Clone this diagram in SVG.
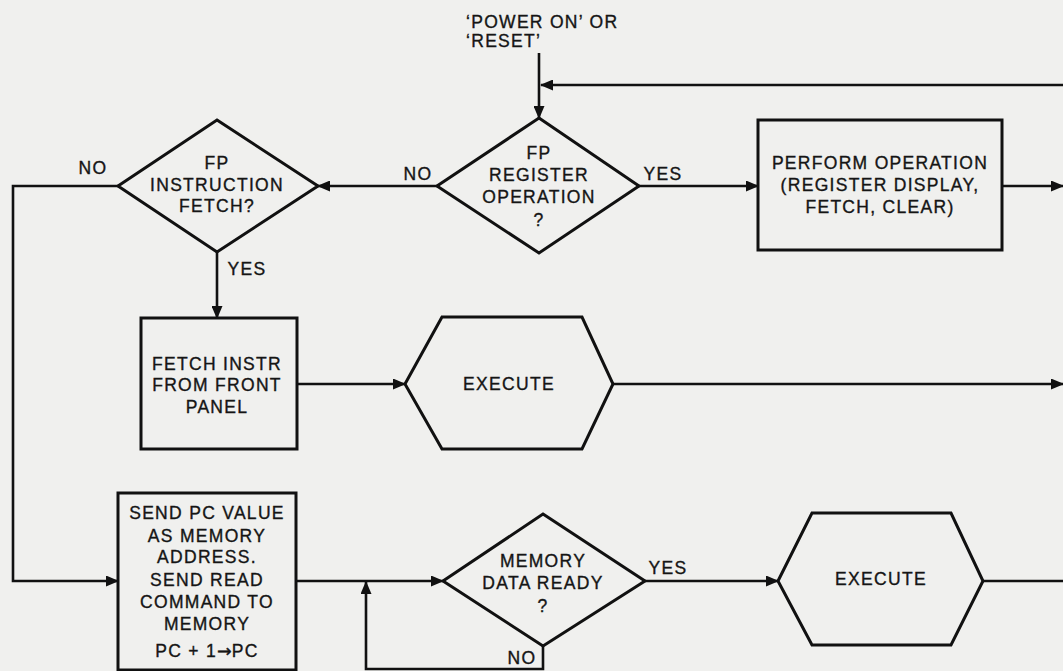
<svg xmlns="http://www.w3.org/2000/svg" width="1063" height="671" viewBox="0 0 1063 671">
<defs>
<marker id="ah" markerUnits="userSpaceOnUse" markerWidth="13" markerHeight="11" refX="12" refY="5.5" orient="auto">
<path d="M0,0 L13,5.5 L0,11 z" fill="#111"/>
</marker>
<style>
.s{fill:none;stroke:#111;stroke-width:3;stroke-linejoin:miter}
.c{fill:none;stroke:#111;stroke-width:2.6}
.a{marker-end:url(#ah)}
text{font-family:"Liberation Sans",Arial,sans-serif;font-size:17.5px;letter-spacing:1.3px;fill:#151515;stroke:#151515;stroke-width:0.35}
.m{text-anchor:middle}
.arr{font-family:"DejaVu Sans",sans-serif;letter-spacing:0}
</style>
</defs>
<rect width="1063" height="671" fill="#f0f0ee"/>

<g id="start">
<text x="466" y="28">‘POWER ON’ OR</text>
<text x="466" y="47">‘RESET’</text>
</g>

<g id="connectors">
<line class="c a" x1="539" y1="53" x2="539" y2="118"/>
<line class="c a" x1="1063" y1="85" x2="541" y2="85"/>
<line class="c a" x1="639" y1="186" x2="758" y2="186"/>
<line class="c a" x1="1002" y1="186" x2="1063" y2="186"/>
<line class="c a" x1="437" y1="186" x2="318" y2="186"/>
<polyline class="c a" points="118,186 13,186 13,581 118,581"/>
<line class="c a" x1="217" y1="252" x2="217" y2="318"/>
<line class="c a" x1="297" y1="384" x2="405" y2="384"/>
<line class="c a" x1="613" y1="384" x2="1063" y2="384"/>
<line class="c a" x1="296" y1="581" x2="443" y2="581"/>
<polyline class="c a" points="543,646 543,669 366,669 366,582"/>
<line class="c a" x1="645" y1="581" x2="778" y2="581"/>
<line class="c" x1="983" y1="581" x2="1063" y2="581"/>
<text x="418" y="180" class="m">NO</text>
<text x="663" y="180" class="m">YES</text>
<text x="93" y="174" class="m">NO</text>
<text x="247" y="275" class="m">YES</text>
<text x="522" y="664" class="m">NO</text>
<text x="668" y="574" class="m">YES</text>
</g>

<g id="fp-register">
<polygon class="s" points="539,118 639,186 539,253 437,186"/>
<text x="539" y="159" class="m">FP</text>
<text x="539" y="181" class="m">REGISTER</text>
<text x="539" y="203" class="m">OPERATION</text>
<text x="539" y="226" class="m">?</text>
</g>

<g id="perform-operation">
<rect class="s" x="758" y="120" width="244" height="130"/>
<text x="880" y="169" class="m">PERFORM OPERATION</text>
<text x="880" y="191" class="m">(REGISTER DISPLAY,</text>
<text x="880" y="213" class="m">FETCH, CLEAR)</text>
</g>

<g id="fp-instruction">
<polygon class="s" points="217,120 318,186 217,252 118,186"/>
<text x="217" y="169" class="m">FP</text>
<text x="217" y="191" class="m">INSTRUCTION</text>
<text x="217" y="212" class="m">FETCH?</text>
</g>

<g id="fetch-instr">
<rect class="s" x="141" y="318" width="156" height="131"/>
<text x="217" y="370" class="m">FETCH INSTR</text>
<text x="217" y="391" class="m">FROM FRONT</text>
<text x="217" y="413" class="m">PANEL</text>
</g>

<g id="execute-1">
<polygon class="s" points="405,384 442,317 582,317 613,384 582,449 442,449"/>
<text x="509" y="390" class="m">EXECUTE</text>
</g>

<g id="send-pc">
<rect class="s" x="118" y="493" width="178" height="177"/>
<text x="207" y="519" class="m">SEND PC VALUE</text>
<text x="207" y="542" class="m">AS MEMORY</text>
<text x="207" y="563" class="m">ADDRESS.</text>
<text x="207" y="586" class="m">SEND READ</text>
<text x="207" y="608" class="m">COMMAND TO</text>
<text x="207" y="630" class="m">MEMORY</text>
<text x="207" y="657" class="m">PC + 1<tspan class="arr">→</tspan>PC</text>
</g>

<g id="memory-ready">
<polygon class="s" points="543,514 645,581 543,646 443,581"/>
<text x="543" y="567" class="m">MEMORY</text>
<text x="543" y="589" class="m">DATA READY</text>
<text x="543" y="612" class="m">?</text>
</g>

<g id="execute-2">
<polygon class="s" points="778,581 812,513 951,513 983,581 951,645 812,645"/>
<text x="881" y="585" class="m">EXECUTE</text>
</g>
</svg>
